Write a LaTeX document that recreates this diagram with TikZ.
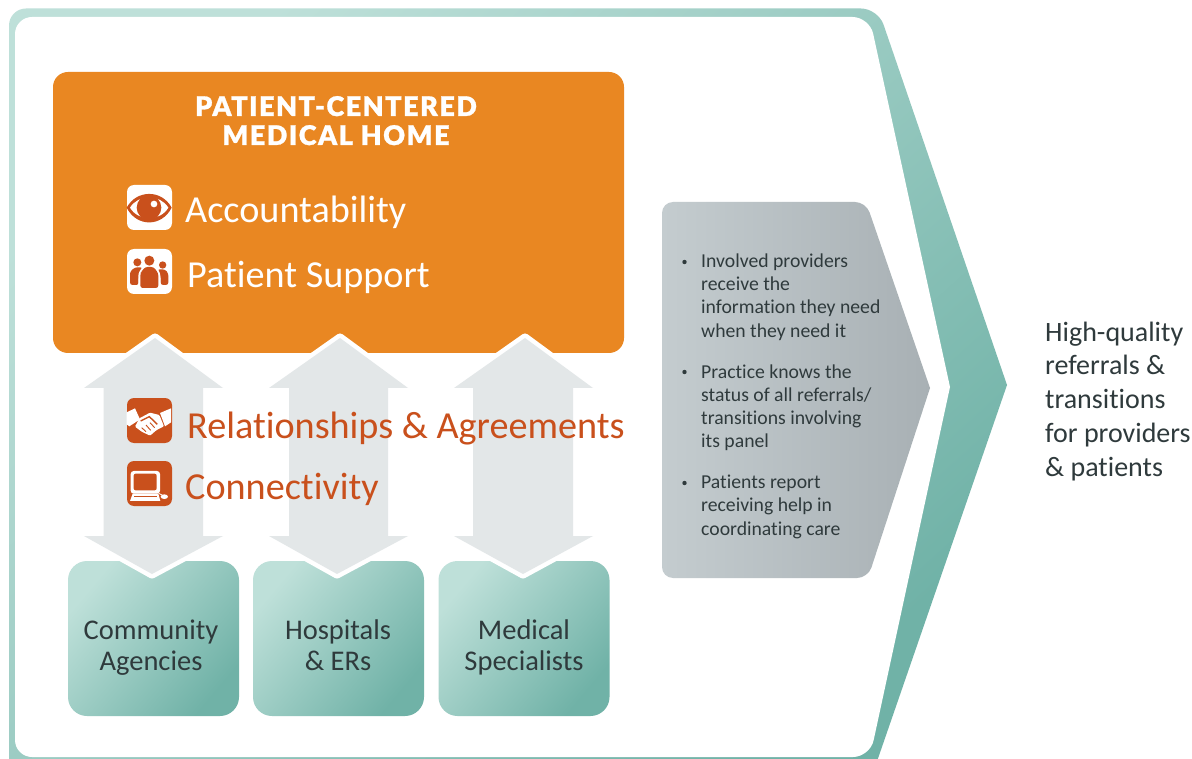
\documentclass[tikz,border=0pt]{standalone}
\usepackage{fontspec}
\setmainfont{Carlito}[Ligatures=NoCommon]
\newfontfamily\lightf{Carlito}[Ligatures=NoCommon]
\newfontfamily\titlef{Lato Black}[LetterSpace=5.6,FakeBold=1]
\newcommand\fs[1]{\fontsize{#1}{#1}\selectfont}
\definecolor{orangebox}{HTML}{E98722}
\definecolor{rust}{HTML}{C9501C}
\definecolor{arrowgray}{HTML}{E3E7E8}
\definecolor{tealA}{HTML}{BEE0D9}
\definecolor{tealB}{HTML}{70B2A7}
\definecolor{grayA}{HTML}{C4CCCF}
\definecolor{grayB}{HTML}{A8B0B4}
\definecolor{ink}{HTML}{2F3A3C}
\tikzset{
  x=1pt,y=-1pt,
  tealbox/.style={rectangle,rounded corners=19pt,minimum width=171pt,minimum height=155pt,inner sep=0pt,top color=tealA,bottom color=tealB,shading angle=50},
  dblarrow/.style={fill=arrowgray,preaction={draw=white,line width=9pt,line join=round}},
  lab/.style={anchor=base west,inner sep=0pt,font=\lightf\fs{38.2},text=white},
  rustlab/.style={lab,text=rust},
  boxlab/.style={anchor=base,inner sep=0pt,font=\lightf\fs{28.5},text=ink},
  bul/.style={anchor=base west,inner sep=0pt,font=\lightf\fs{19.7},text=ink},
  sidelab/.style={anchor=base west,inner sep=0pt,font=\lightf\fs{28},text=ink},
  titlelab/.style={anchor=base,inner sep=0pt,font=\titlef\fs{27},text=white},
  whiteicon/.style={rectangle,rounded corners=7pt,minimum size=45pt,inner sep=0pt,fill=white},
  rusticon/.style={rectangle,rounded corners=7pt,minimum size=45pt,inner sep=0pt,fill=rust},
}
\newcommand\dbl[6]{% tipTopX, tipBotX, headL, shaftL, shaftR, headR
  \path[dblarrow] (#1,338) -- (#6,388) -- (#5,388) -- (#5,536) -- (#6,536) -- (#2,574) -- (#3,536) -- (#4,536) -- (#4,388) -- (#3,388) -- cycle;
}
\begin{document}
\begin{tikzpicture}
\useasboundingbox (0,0) rectangle (1192,759);
\clip (0,0) rectangle (1192,759);
\fill[white] (0,0) rectangle (1192,759);
% outer chevron
\shade[top color=tealA,bottom color=tealB,shading angle=42,rounded corners=17pt]
  (9,8.5) -- (878,8.5) [sharp corners] -- (1007,385) -- (874,770) -- (9,770) [rounded corners=17pt] -- cycle;
\fill[white,rounded corners=17pt]
  (15,17) -- (869.5,17) [sharp corners] -- (950,387) [rounded corners=17pt] -- (870,757) -- (15,757) -- cycle;
% orange panel
\node[rectangle,rounded corners=15pt,fill=orangebox,minimum width=571pt,minimum height=281pt,inner sep=0pt] (home) at (338.5,212.5) {};
% source boxes
\node[tealbox] (agencies) at (153.5,638.5) {};
\node[tealbox] (hospitals) at (338.5,638.5) {};
\node[tealbox] (specialists) at (524,638.5) {};
% double arrows
\dbl{155}{152}{84}{103.5}{203}{223}
\dbl{340}{337}{269}{289}{388}{408}
\dbl{525}{523}{454}{473}{573}{593}
% grey chevron
\shade[left color=grayA,right color=grayB,rounded corners=11pt]
  (662,202) -- (866,202) [sharp corners] -- (930,388) [rounded corners=11pt] -- (868,578) -- (662,578) -- cycle;
% title
\node[titlelab] (t1) at (336,116) {PATIENT-CENTERED};
\node[titlelab] (t2) at (336,145) {MEDICAL HOME};
% icons
\node[whiteicon] (eye) at (149.5,207.5) {};
\node[whiteicon] (people) at (149.5,271.5) {};
\node[rusticon] (shake) at (149.5,420.5) {};
\node[rusticon] (comp) at (149.5,483.5) {};
% eye
\begin{scope}[shift={(100,170)},scale=1/3]
  \fill[rust] (80,113) .. controls (110,58) and (185,58) .. (215,113) .. controls (185,172) and (110,172) .. cycle;
  \fill[white] (90,113) .. controls (115,72) and (180,72) .. (205,113) .. controls (180,155) and (115,155) .. cycle;
  \fill[rust] (147,113) circle (37pt);
  \fill[white] (162,102) circle (10pt);
\end{scope}
% people
\begin{scope}[shift={(100,170)},scale=1/3]
  \fill[rust] (112,277) circle (12pt) (188,285) circle (11pt);
  \fill[rust,rounded corners=2.5pt] (90,345) -- (90,305) -- (105,292) -- (128,292) -- (116,320) -- (116,345) -- cycle;
  \fill[rust,rounded corners=2.5pt] (205,345) -- (205,310) -- (195,298) -- (172,298) -- (182,320) -- (182,345) -- cycle;
  \draw[white,line width=1.3pt,rounded corners=2.5pt] (117,356) -- (117,310) -- (132,288) -- (164,288) -- (179,310) -- (179,356);
  \fill[rust] (148,272) circle (15pt);
  \fill[rust,rounded corners=2.5pt] (121,354) -- (121,310) -- (135,291) -- (161,291) -- (175,310) -- (175,354) -- cycle;
\end{scope}
% handshake
\begin{scope}[shift={(100,385)},scale=1/3]
  \fill[white] (80,82) -- (105,70) -- (120,103) -- (88,124) -- (80,118) -- cycle;
  \fill[white] (213,70) -- (180,84) -- (195,124) -- (213,112) -- cycle;
  \fill[white,rounded corners=1pt] (118,100) -- (150,83) -- (178,90) -- (192,124) -- (170,135) -- (150,152) -- (125,140) -- (105,125) -- cycle;
  \draw[rust,line width=1.4pt] (122,108) -- (148,95) -- (172,118);
  \draw[rust,line width=.9pt] (125,128) -- (138,140) (138,120) -- (152,136) (150,113) -- (164,128);
\end{scope}
% computer
\begin{scope}[shift={(100,385)},scale=1/3]
  \fill[white,rounded corners=3pt] (92,258) rectangle (180,326);
  \fill[rust,rounded corners=2pt] (101,266) rectangle (170,316);
  \fill[white] (98,326) -- (175,326) -- (181,348) -- (90,348) -- cycle;
  \fill[rust] (102,332) rectangle (170,336);
  \draw[white,line width=.8pt] (176,325) .. controls (182,330) and (185,330) .. (190,332);
  \fill[white] (193,335) ellipse (11pt and 7pt);
\end{scope}
% labels
\node[lab] (acc) at (185,223) {Accountability};
\node[lab] (sup) at (187,288) {Patient Support};
\node[rustlab] (rel) at (187,438) {Relationships \& Agreements};
\node[rustlab] (con) at (185,499) {Connectivity};
\node[boxlab] (l1a) at (151,639) {Community};
\node[boxlab] (l1b) at (151,670) {Agencies};
\node[boxlab] (l2a) at (338,639) {Hospitals};
\node[boxlab] (l2b) at (338,670) {\& ERs};
\node[boxlab] (l3a) at (524,639) {Medical};
\node[boxlab] (l3b) at (524,670) {Specialists};
% bullets
\foreach \y in {262,372,483}
  \fill[ink] (684.5,\y) circle (2.2pt);
\node[bul] (b1) at (701,268) {Involved providers};
\node[bul] (b2) at (701,291) {receive the};
\node[bul] (b3) at (701,314) {information they need};
\node[bul] (b4) at (701,337.5) {when they need it};
\node[bul] (b5) at (701,378) {Practice knows the};
\node[bul] (b6) at (701,401.5) {status of all referrals/};
\node[bul] (b7) at (701,424.5) {transitions involving};
\node[bul] (b8) at (701,447.5) {its panel};
\node[bul] (b9) at (701,488.5) {Patients report};
\node[bul] (b10) at (701,511.5) {receiving help in};
\node[bul] (b11) at (701,535) {coordinating care};
% right text
\node[sidelab] (r1) at (1045,342) {High-quality};
\node[sidelab] (r2) at (1045,375) {referrals \&};
\node[sidelab] (r3) at (1045,409) {transitions};
\node[sidelab] (r4) at (1045,442) {for providers};
\node[sidelab] (r5) at (1045,476) {\& patients};
\end{tikzpicture}
\end{document}
